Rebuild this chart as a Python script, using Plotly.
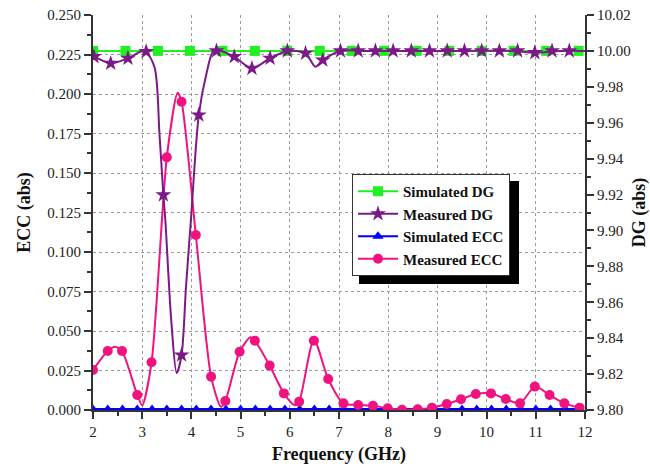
import plotly.graph_objects as go

# ---------------- data ----------------
freq_sim_dg = [2.0, 2.66, 3.32, 3.97, 4.63, 5.29, 5.95, 6.61, 7.26, 7.92,
               8.58, 9.24, 9.90, 10.55, 11.21, 11.87]
dg_sim = [10.00] * len(freq_sim_dg)

freq_meas_dg = [2.02, 2.36, 2.71, 3.08, 3.43, 3.80, 4.15, 4.51, 4.87, 5.23,
                5.60, 5.95, 6.32, 6.67, 7.03, 7.39, 7.74, 8.10, 8.47, 8.84,
                9.20, 9.55, 9.90, 10.26, 10.63, 10.98, 11.33, 11.68]
dg_meas = [9.9968, 9.9931, 9.9959, 9.9996, 9.9198, 9.8306, 9.9643, 10.000, 9.9968, 9.9903,
           9.9959, 10.000, 9.9987, 9.9949, 10.000, 10.000, 10.000, 10.000, 10.000, 10.000,
           10.000, 10.000, 10.000, 10.000, 10.000, 9.9990, 10.000, 10.000]

# measured DG curve (includes extrema between markers)
freq_meas_dg_curve = [2.0, 2.36, 2.71, 3.05, 3.25, 3.35, 3.43, 3.47, 3.59, 3.70, 3.80,
                      3.89, 3.99, 4.15, 4.30, 4.45, 4.60, 4.87, 5.23, 5.60, 5.95,
                      6.32, 6.52, 6.67, 7.03, 7.5, 8.5, 9.5, 10.5, 10.98, 11.5, 12.0]
dg_meas_curve = [9.9972, 9.9931, 9.9959, 10.000, 9.9910, 9.9543, 9.9198, 9.9058, 9.8501, 9.8206, 9.8306,
                 9.8685, 9.9058, 9.9643, 9.9866, 10.000, 10.000, 9.9968, 9.9903, 9.9959, 10.000,
                 9.9987, 9.9912, 9.9949, 10.000, 10.000, 10.000, 10.000, 10.000, 9.9990, 10.000, 10.000]

freq_sim_ecc = [2.0, 2.3, 2.6, 2.9, 3.2, 3.5, 3.8, 4.1, 4.4, 4.7, 5.0, 5.3, 5.6, 5.9,
                6.2, 6.5, 6.8, 7.1, 7.4, 7.7, 8.0, 8.3, 8.6, 8.9, 9.2, 9.5, 9.8, 10.1,
                10.4, 10.7, 11.0, 11.3, 11.6, 11.9]
ecc_sim = [0.0006] * len(freq_sim_ecc)

freq_meas_ecc = [2.00, 2.30, 2.59, 2.90, 3.19, 3.50, 3.80, 4.09, 4.40, 4.69, 4.98, 5.29,
                 5.59, 5.88, 6.19, 6.49, 6.78, 7.09, 7.39, 7.69, 7.99, 8.28, 8.60, 8.89,
                 9.19, 9.48, 9.78, 10.09, 10.39, 10.68, 10.98, 11.28, 11.58, 11.89]
ecc_meas = [0.0253, 0.0373, 0.0373, 0.0095, 0.0302, 0.1599, 0.1951, 0.1108, 0.0211, 0.0057,
            0.0369, 0.0439, 0.0281, 0.0105, 0.0053, 0.0439, 0.0196, 0.0042, 0.0032, 0.0027,
            0.0011, 0.0002, 0.0004, 0.0015, 0.0038, 0.0068, 0.0101, 0.0105, 0.0070, 0.0042,
            0.0148, 0.0095, 0.0042, 0.0015]

# measured ECC curve
freq_meas_ecc_curve = [2.00, 2.30, 2.45, 2.59, 2.90, 3.00, 3.19, 3.50, 3.72, 3.80, 4.09, 4.40,
                       4.60, 4.69, 4.98, 5.20, 5.29, 5.59, 5.88, 6.10, 6.19, 6.49, 6.78, 7.09,
                       7.39, 7.69, 7.99, 8.28, 8.60, 8.89, 9.19, 9.48, 9.78, 10.09, 10.39,
                       10.68, 10.98, 11.28, 11.58, 11.89]
ecc_meas_curve = [0.0253, 0.0373, 0.0400, 0.0373, 0.0095, 0.0030, 0.0302, 0.1599, 0.2008, 0.1951,
                  0.1108, 0.0211, 0.0020, 0.0057, 0.0369, 0.0460, 0.0439, 0.0281, 0.0105, 0.0030,
                  0.0053, 0.0445, 0.0196, 0.0042, 0.0032, 0.0027, 0.0011, 0.0002, 0.0004, 0.0015,
                  0.0038, 0.0068, 0.0101, 0.0105, 0.0070, 0.0042, 0.0148, 0.0095, 0.0042, 0.0015]

series_names = ["Simulated DG", "Measured DG", "Simulated ECC", "Measured ECC"]

# ---------------- styling ----------------
GREEN = "#1ff01f"
PURPLE = "#7b1a87"
BLUE = "#0000ff"
PINK = "#f0137f"
FONT = "Liberation Serif"

fig = go.Figure()

# ECC traces (left axis)
fig.add_trace(go.Scatter(x=freq_sim_ecc, y=ecc_sim, mode="lines+markers",
                         line=dict(color=BLUE, width=2),
                         marker=dict(symbol="triangle-up", size=9, color=BLUE),
                         showlegend=False, xaxis="x", yaxis="y"))
fig.add_trace(go.Scatter(x=freq_meas_ecc_curve, y=ecc_meas_curve, mode="lines",
                         line=dict(color=PINK, width=2, shape="spline", smoothing=0.7),
                         showlegend=False, xaxis="x", yaxis="y"))
fig.add_trace(go.Scatter(x=freq_meas_ecc, y=ecc_meas, mode="markers",
                         marker=dict(symbol="circle", size=10, color=PINK),
                         showlegend=False, xaxis="x", yaxis="y"))

# DG traces (right axis)
fig.add_trace(go.Scatter(x=freq_sim_dg, y=dg_sim, mode="lines+markers",
                         line=dict(color=GREEN, width=2),
                         marker=dict(symbol="square", size=10, color=GREEN),
                         showlegend=False, xaxis="x", yaxis="y2"))
fig.add_trace(go.Scatter(x=freq_meas_dg_curve, y=dg_meas_curve, mode="lines",
                         line=dict(color=PURPLE, width=2, shape="spline", smoothing=0.8),
                         showlegend=False, xaxis="x", yaxis="y2"))
fig.add_trace(go.Scatter(x=freq_meas_dg, y=dg_meas, mode="markers",
                         marker=dict(symbol="star", size=12, color=PURPLE),
                         showlegend=False, xaxis="x", yaxis="y2"))

# legend entries
legend_styles = [
    (GREEN, "square", 10),
    (PURPLE, "star", 12),
    (BLUE, "triangle-up", 10),
    (PINK, "circle", 10),
]
for name, (c, sym, sz) in zip(series_names, legend_styles):
    fig.add_trace(go.Scatter(x=[None], y=[None], mode="lines+markers", name="<b>" + name + "</b>",
                             line=dict(color=c, width=2),
                             marker=dict(symbol=sym, size=sz, color=c),
                             xaxis="x", yaxis="y"))

# plot area in pixels: x 93..585, y 15..410
L, R, T, B = 93, 585, 15, 410
W, H = 650, 466
def px_x(p):
    return (p - L) / (R - L)
def px_y(p):
    return (B - p) / (B - T)

axis_font = dict(family=FONT, size=15, color="#222")
title_font = dict(family=FONT, size=18, color="#111")

fig.update_layout(
    width=W, height=H,
    margin=dict(l=L, r=W - R, t=T, b=H - B, autoexpand=False),
    paper_bgcolor="white", plot_bgcolor="white",
    font=dict(family=FONT),
    xaxis=dict(range=[2, 12], dtick=1, tick0=2, ticks="outside", ticklen=7, tickwidth=1.5,
               tickcolor="#333", showline=True, linecolor="#333", linewidth=2,
               showgrid=True, gridcolor="#9a9a9a", griddash="dot", gridwidth=1,
               zeroline=False, tickfont=axis_font, automargin=False,
               minor=dict(dtick=0.5, ticks="outside", ticklen=4, tickcolor="#333", showgrid=False),
               title=dict(text="<b>Frequency (GHz)</b>", font=title_font, standoff=8)),
    xaxis2=dict(range=[2, 12], overlaying="x", side="top", dtick=1, tick0=2,
                ticks="inside", ticklen=7, tickwidth=1.5, tickcolor="#333",
                showline=True, linecolor="#333", linewidth=2, showticklabels=False,
                showgrid=False, zeroline=False, automargin=False,
                minor=dict(dtick=0.5, ticks="inside", ticklen=4, tickcolor="#333")),
    yaxis=dict(range=[0, 0.25], dtick=0.025, tick0=0, tickformat=".3f", ticks="outside",
               ticklen=7, tickwidth=1.5, tickcolor="#333", showline=True, linecolor="#333",
               linewidth=2, showgrid=True, gridcolor="#9a9a9a", griddash="dot", gridwidth=1,
               zeroline=False, tickfont=axis_font, automargin=False,
               minor=dict(dtick=0.0125, ticks="outside", ticklen=4, tickcolor="#333", showgrid=False),
               title=dict(text="<b>ECC (abs)</b>", font=title_font, standoff=12)),
    yaxis2=dict(range=[9.80, 10.02], overlaying="y", side="right", dtick=0.02, tick0=9.8,
                tickformat=".2f", ticks="outside", ticklen=7, tickwidth=1.5, tickcolor="#333",
                showline=True, linecolor="#333", linewidth=2, showgrid=False, zeroline=False,
                tickfont=axis_font, automargin=False,
                minor=dict(dtick=0.01, ticks="outside", ticklen=4, tickcolor="#333"),
                title=dict(text="<b>DG (abs)</b>", font=title_font, standoff=12)),
    legend=dict(x=px_x(352), y=px_y(174), xanchor="left", yanchor="top",
                bgcolor="white", bordercolor="#333", borderwidth=1,
                font=dict(family=FONT, size=15, color="#111"),
                tracegroupgap=0, itemwidth=40),
    shapes=[dict(type="rect", xref="paper", yref="paper",
                 x0=px_x(359), x1=px_x(519), y0=px_y(284), y1=px_y(181),
                 fillcolor="black", line=dict(width=0), layer="above")],
)

fig.write_html("out.html")
